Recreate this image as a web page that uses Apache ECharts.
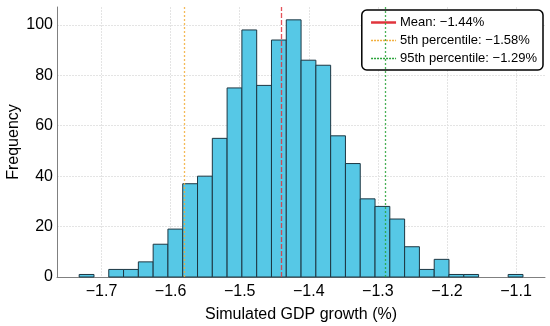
<!DOCTYPE html>
<html>
<head>
<meta charset="utf-8">
<script src="https://cdn.jsdelivr.net/npm/echarts@6/dist/echarts.min.js"></script>
<style>
html,body{margin:0;padding:0;background:#fff;}
#chart{width:550px;height:326px;}
</style>
</head>
<body>
<div id="chart"></div>
<script>
// Histogram bins
const binStart = -1.7323;
const binWidth = 0.02141;
const counts = [1, 0, 3, 3, 6, 13, 19, 37, 40, 55, 75, 98, 76, 94, 102, 86, 84, 56, 45, 31, 28, 23, 12, 3, 7, 1, 1, 0, 0, 1];

// Reference lines
const refNames = ['Mean: \u22121.44%', '5th percentile: \u22121.58%', '95th percentile: \u22121.29%'];
const refValues = [-1.437, -1.577, -1.287];
const refColors = ['#e0343c', '#f2ae3c', '#2aa33a'];

// Tick labels
const xTicks = [-1.7, -1.6, -1.5, -1.4, -1.3, -1.2, -1.1];
const yTicks = [0, 20, 40, 60, 80, 100];

const FONT = 'Liberation Sans, Arial, sans-serif';
const binData = counts.map((c, i) => [binStart + i * binWidth, binStart + (i + 1) * binWidth, c]);

const chart = echarts.init(document.getElementById('chart'), null, {renderer: 'canvas'});

const refSeries = refNames.map((name, i) => ({
  type: 'line',
  name: name,
  data: [],
  symbol: 'none',
  color: refColors[i],
  lineStyle: {color: refColors[i], width: 1.3, type: i === 0 ? [5, 2] : [2, 2]},
  markLine: {
    silent: true,
    symbol: 'none',
    label: {show: false},
    animation: false,
    lineStyle: {color: refColors[i], width: 1.3, type: i === 0 ? [5, 2] : [2, 2], opacity: 0.85},
    data: [{xAxis: refValues[i]}]
  }
}));

const hiddenDot = {color: 'rgba(0,0,0,0)', borderColor: 'rgba(0,0,0,0)', borderWidth: 0, opacity: 0};

chart.setOption({
  animation: false,
  backgroundColor: '#fff',
  grid: {left: 57, right: 5, top: 7, bottom: 49, containLabel: false, outerBoundsMode: 'none'},
  xAxis: {
    type: 'value',
    min: -1.7644,
    max: -1.0581,
    name: 'Simulated GDP growth (%)',
    nameLocation: 'middle',
    nameGap: 30,
    nameMoveOverlap: false,
    nameTextStyle: {fontFamily: FONT, fontSize: 16, color: '#000'},
    axisLine: {show: true, onZero: false, lineStyle: {color: '#808080', width: 1}},
    axisTick: {show: false, customValues: xTicks},
    axisLabel: {
      customValues: xTicks,
      fontFamily: FONT, fontSize: 16, color: '#000', margin: 7,
      formatter: v => (v < 0 ? '\u2212' : '') + Math.abs(v).toFixed(1)
    },
    splitLine: {show: true, lineStyle: {color: '#e4e4e4', width: 1, type: [2, 1]}}
  },
  yAxis: {
    type: 'value',
    min: 0,
    max: 107.1,
    name: 'Frequency',
    nameLocation: 'middle',
    nameGap: 35,
    nameMoveOverlap: false,
    nameTextStyle: {fontFamily: FONT, fontSize: 16, color: '#000'},
    axisLine: {show: true, lineStyle: {color: '#808080', width: 1}},
    axisTick: {show: false, customValues: yTicks},
    axisLabel: {customValues: yTicks, fontFamily: FONT, fontSize: 16, color: '#000', margin: 4},
    splitLine: {show: true, lineStyle: {color: '#e4e4e4', width: 1, type: [2, 1]}}
  },
  legend: {
    orient: 'vertical',
    right: 7,
    top: 10,
    backgroundColor: '#fff',
    borderColor: '#000',
    borderWidth: 1.5,
    borderRadius: 5,
    padding: [6, 6, 5, 8],
    itemWidth: 25,
    itemHeight: 12,
    itemGap: 5,
    textStyle: {fontFamily: FONT, fontSize: 13, color: '#000', padding: [0, 0, 0, -1]},
    data: [
      {name: refNames[0], itemStyle: hiddenDot, lineStyle: {type: 'solid', width: 2.5, color: refColors[0]}},
      {name: refNames[1], itemStyle: hiddenDot, lineStyle: {type: [2, 1], width: 1.5, color: refColors[1]}},
      {name: refNames[2], itemStyle: hiddenDot, lineStyle: {type: [2, 1], width: 1.5, color: refColors[2]}}
    ]
  },
  series: [
    {
      type: 'custom',
      name: 'hist',
      data: binData,
      encode: {x: [0, 1], y: 2},
      renderItem: function (params, api) {
        const c = api.value(2);
        if (!c) return null;
        const p0 = api.coord([api.value(0), c]);
        const p1 = api.coord([api.value(1), 0]);
        return {
          type: 'rect',
          shape: {x: p0[0], y: p0[1], width: p1[0] - p0[0], height: p1[1] - p0[1]},
          style: {fill: '#56c8e6', stroke: '#1d3642', lineWidth: 1}
        };
      },
      z: 2
    }
  ].concat(refSeries)
});
</script>
</body>
</html>
